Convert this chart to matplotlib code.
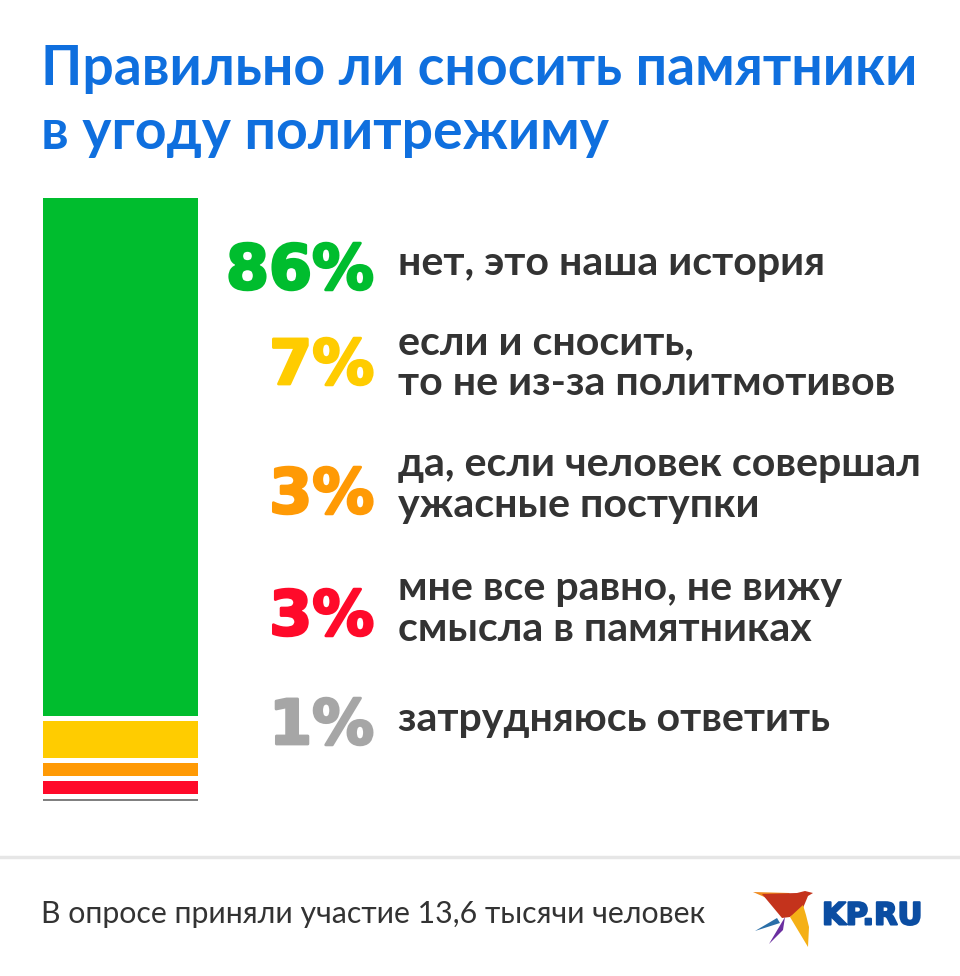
import matplotlib
matplotlib.use("Agg")
import matplotlib.pyplot as plt
import matplotlib.patheffects as pe
from matplotlib.patches import Polygon

# данные опроса
percents = [86, 7, 3, 3, 1]
labels = ["нет, это наша история",
          "если и сносить,\nто не из-за политмотивов",
          "да, если человек совершал\nужасные поступки",
          "мне все равно, не вижу\nсмысла в памятниках",
          "затрудняюсь ответить"]
colors = ["#00BD2E", "#FFCC00", "#FF9A05", "#FF0A2A", "#A6A6A6"]
bar_colors = ["#00BD2E", "#FFCC00", "#FF9A05", "#FF0A2A", "#808080"]
title_lines = ["Правильно ли сносить памятники", "в угоду политрежиму"]
footer = "В опросе приняли участие 13,6 тысячи человек"
label_y = [263, 363, 485, 609, 719]
percent_base = [289, 384, 513, 635, 744]

W, H = 960, 976
plt.rcParams["font.family"] = "Lato"
fig = plt.figure(figsize=(W / 100, H / 100), dpi=100, facecolor="white")

# полный холст в пикселях
bg = fig.add_axes([0, 0, 1, 1])
bg.set_xlim(0, W)
bg.set_ylim(H, 0)
bg.axis("off")

# столбец со шкалой 0-100
ax = fig.add_axes([43 / W, 1 - 800.5 / H, 155 / W, 602.5 / H])
ax.set_xlim(0, 1)
ax.set_ylim(100, 0)
ax.axis("off")
gap = 0.78
start = 0
for i, (p, c) in enumerate(zip(percents, bar_colors)):
    g = gap if i > 0 else 0
    ax.bar(0.5, p - g, width=1, bottom=start + g, color=c, linewidth=0)
    start += p

bg.text(41, 69, title_lines[0], color="#0F6FDE", fontsize=39.9, fontweight="bold", va="center")
bg.text(41, 133, title_lines[1], color="#0F6FDE", fontsize=39.9, fontweight="bold", va="center")

for p, lab, c, y, b in zip(percents, labels, colors, label_y, percent_base):
    t = bg.text(374, b, f"{p}%", color=c, fontsize=44.5, family="DejaVu Sans",
                fontweight="bold", ha="right", va="baseline")
    t.set_path_effects([pe.withStroke(linewidth=2, foreground=c)])
    bg.text(398, y, lab, color="#333333", fontsize=29.6, fontweight="bold", va="center", linespacing=1.15)

# подвал
bg.plot([0, W], [857, 857], color="#E6E6E6", lw=2.5)
bg.text(41, 914, footer, color="#333333", fontsize=21.8, va="center")

# логотип
bg.add_patch(Polygon([(753, 892), (790, 893), (778, 903)], color="#F08A1D", lw=0))
bg.add_patch(Polygon([(762, 894), (797, 893), (805, 891), (813, 893), (808, 896),
                      (803, 908), (790, 917), (782, 918)], color="#C4331C", lw=0))
bg.add_patch(Polygon([(790, 917), (803, 905), (806, 915), (809, 927), (808, 947)], color="#F5B016", lw=0))
bg.add_patch(Polygon([(785, 917), (769, 944), (783, 930)], color="#6B2FA0", lw=0))
bg.add_patch(Polygon([(755, 931), (777, 918), (780, 923)], color="#2A6FA8", lw=0))
t = bg.text(922, 916, "KP.RU", color="#0B4DA2", fontsize=22, family="DejaVu Sans",
            fontweight="bold", ha="right", va="center")
t.set_path_effects([pe.withStroke(linewidth=1.5, foreground="#0B4DA2")])

fig.savefig("out.png", dpi=100)
